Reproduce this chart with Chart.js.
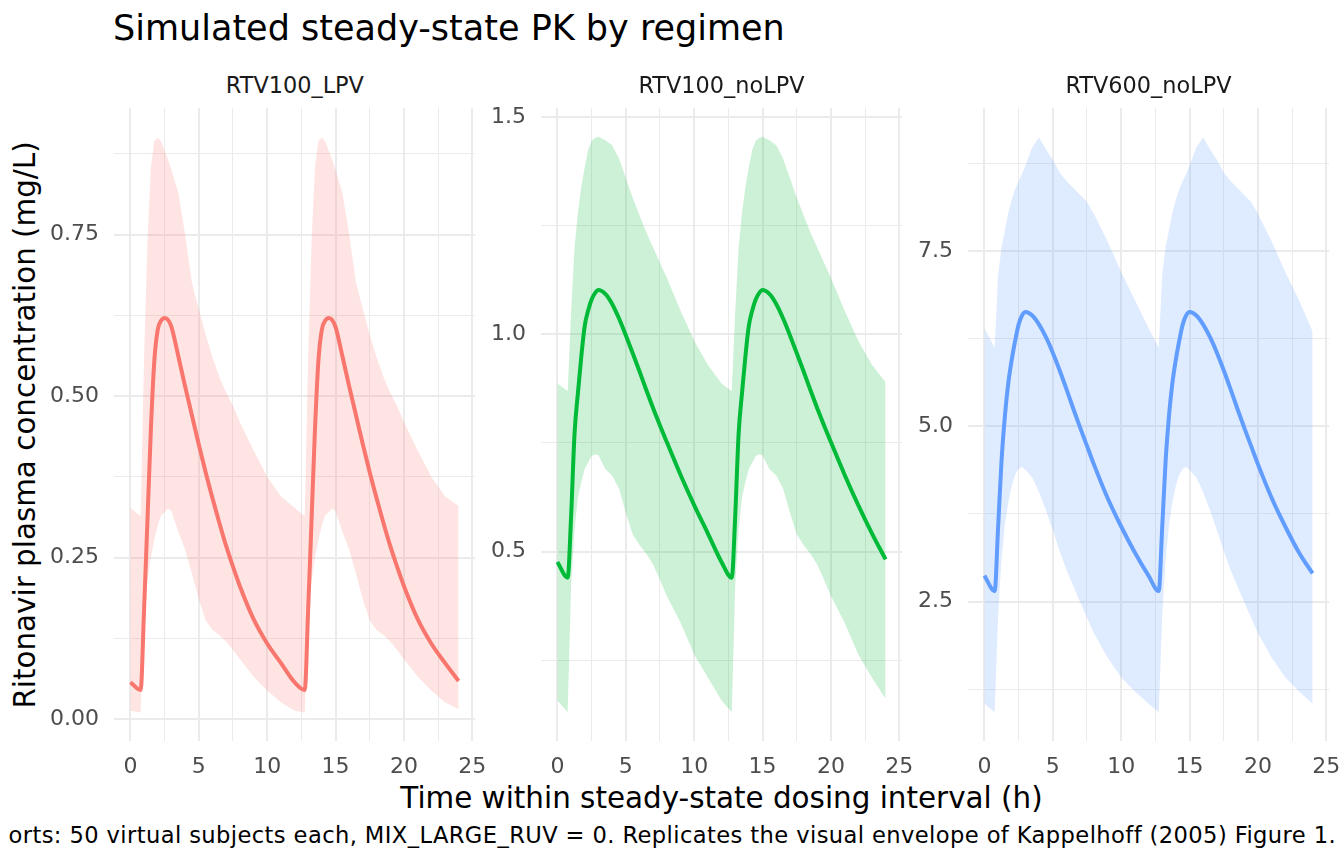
<!DOCTYPE html>
<html>
<head>
<meta charset="utf-8">
<script src="https://cdn.jsdelivr.net/npm/chart.js@4.4.1/dist/chart.umd.min.js"></script>
<style>
  body { margin: 0; width: 1344px; height: 864px; overflow: hidden; position: relative; background: #ffffff; font-family: "DejaVu Sans", sans-serif; }
  canvas { position: absolute; }
  .txt { position: absolute; white-space: nowrap; line-height: 1; }
</style>
</head>
<body>
<div class="txt" id="title" style="left:113px; top:11px; font-size:35px; color:#000;">Simulated steady-state PK by regimen</div>
<div class="txt" id="xtitle" style="left:721.5px; top:783.5px; font-size:29.4px; color:#000; transform:translateX(-50%);">Time within steady-state dosing interval (h)</div>
<div class="txt" id="ytitle" style="left:26px; top:424.5px; font-size:29.4px; color:#000; transform:translate(-50%,-50%) rotate(-90deg);">Ritonavir plasma concentration (mg/L)</div>
<div class="txt" id="caption" style="right:8px; top:823.5px; font-size:22.6px; letter-spacing:0.4px; color:#000;">orts: 50 virtual subjects each, MIX_LARGE_RUV = 0. Replicates the visual envelope of Kappelhoff (2005) Figure 1.</div>

<script>
console.log('pk chart: Loaded');

// time grid (h) shared by every panel
const TIME_H = [0, 0.75, 1, 1.25, 1.5, 1.75, 2, 2.25, 2.5, 2.75, 3, 3.5, 4, 4.5, 5, 5.5, 6, 6.5, 7, 7.5, 8, 9, 10, 11,
                12, 12.75, 13, 13.25, 13.5, 13.75, 14, 14.25, 14.5, 14.75, 15, 15.5, 16, 16.5, 17, 17.5, 18, 18.5, 19, 19.5, 20, 21, 22, 23,
                24];

const REGIMENS = ['RTV100_LPV', 'RTV100_noLPV', 'RTV600_noLPV'];

// RTV100_LPV
const LPV100_MEDIAN = [0.057, 0.045, 0.17, 0.31, 0.45, 0.555, 0.603, 0.617, 0.621, 0.618, 0.607, 0.562, 0.515, 0.47, 0.425, 0.382, 0.342, 0.304, 0.268, 0.236, 0.206, 0.155, 0.117, 0.087,
                       0.057, 0.045, 0.17, 0.31, 0.45, 0.555, 0.603, 0.617, 0.621, 0.618, 0.607, 0.562, 0.515, 0.47, 0.425, 0.382, 0.342, 0.304, 0.268, 0.236, 0.206, 0.155, 0.117, 0.087,
                       0.059];
const LPV100_P95 = [0.327, 0.314, 0.56, 0.74, 0.855, 0.895, 0.9, 0.894, 0.88, 0.866, 0.85, 0.815, 0.75, 0.675, 0.635, 0.595, 0.56, 0.53, 0.505, 0.485, 0.46, 0.416, 0.375, 0.345,
                    0.327, 0.314, 0.56, 0.74, 0.855, 0.895, 0.9, 0.894, 0.88, 0.866, 0.85, 0.815, 0.75, 0.675, 0.635, 0.595, 0.56, 0.53, 0.505, 0.485, 0.46, 0.416, 0.375, 0.345,
                    0.33];
const LPV100_P05 = [0.013, 0.010, 0.17, 0.215, 0.25, 0.278, 0.30, 0.315, 0.32, 0.326, 0.322, 0.29, 0.262, 0.225, 0.185, 0.153, 0.138, 0.130, 0.12, 0.107, 0.093, 0.066, 0.044, 0.026,
                    0.013, 0.010, 0.17, 0.215, 0.25, 0.278, 0.30, 0.315, 0.32, 0.326, 0.322, 0.29, 0.262, 0.225, 0.185, 0.153, 0.138, 0.130, 0.12, 0.107, 0.093, 0.066, 0.044, 0.026,
                    0.015];

// RTV100_noLPV
const NOLPV100_MEDIAN = [0.476, 0.44, 0.58, 0.77, 0.865, 0.95, 1.02, 1.055, 1.08, 1.095, 1.102, 1.093, 1.07, 1.037, 0.998, 0.957, 0.915, 0.872, 0.83, 0.79, 0.752, 0.677, 0.607, 0.542,
                         0.476, 0.44, 0.58, 0.77, 0.865, 0.95, 1.02, 1.055, 1.08, 1.095, 1.102, 1.093, 1.07, 1.037, 0.998, 0.957, 0.915, 0.872, 0.83, 0.79, 0.752, 0.677, 0.607, 0.542,
                         0.482];
const NOLPV100_P95 = [0.887, 0.869, 1.05, 1.2, 1.28, 1.34, 1.385, 1.425, 1.445, 1.452, 1.455, 1.447, 1.435, 1.405, 1.36, 1.315, 1.275, 1.235, 1.2, 1.165, 1.13, 1.055, 0.985, 0.93,
                      0.887, 0.869, 1.05, 1.2, 1.28, 1.34, 1.385, 1.425, 1.445, 1.452, 1.455, 1.447, 1.435, 1.405, 1.36, 1.315, 1.275, 1.235, 1.2, 1.165, 1.13, 1.055, 0.985, 0.93,
                      0.89];
const NOLPV100_P05 = [0.157, 0.13, 0.42, 0.55, 0.625, 0.66, 0.69, 0.705, 0.72, 0.724, 0.722, 0.69, 0.675, 0.645, 0.59, 0.54, 0.515, 0.495, 0.47, 0.435, 0.398, 0.337, 0.263, 0.21,
                      0.157, 0.13, 0.42, 0.55, 0.625, 0.66, 0.69, 0.705, 0.72, 0.724, 0.722, 0.69, 0.675, 0.645, 0.59, 0.54, 0.515, 0.495, 0.47, 0.435, 0.398, 0.337, 0.263, 0.21,
                      0.161];

// RTV600_noLPV
const NOLPV600_MEDIAN = [2.87, 2.65, 3.55, 4.5, 5.15, 5.62, 5.95, 6.22, 6.45, 6.58, 6.63, 6.58, 6.45, 6.27, 6.05, 5.8, 5.53, 5.25, 4.98, 4.72, 4.46, 3.98, 3.57, 3.2,
                         2.87, 2.65, 3.55, 4.5, 5.15, 5.62, 5.95, 6.22, 6.45, 6.58, 6.63, 6.58, 6.45, 6.27, 6.05, 5.8, 5.53, 5.25, 4.98, 4.72, 4.46, 3.98, 3.57, 3.2,
                         2.9];
const NOLPV600_P95 = [6.4, 6.12, 7.15, 7.55, 7.8, 8.05, 8.23, 8.38, 8.5, 8.6, 8.72, 8.98, 9.12, 8.95, 8.8, 8.62, 8.5, 8.4, 8.3, 8.2, 8.03, 7.64, 7.2, 6.8,
                      6.4, 6.12, 7.15, 7.55, 7.8, 8.05, 8.23, 8.38, 8.5, 8.6, 8.72, 8.98, 9.12, 8.95, 8.8, 8.62, 8.5, 8.4, 8.3, 8.2, 8.03, 7.64, 7.2, 6.8,
                      6.35];
const NOLPV600_P05 = [1.04, 0.92, 2.3, 3.1, 3.6, 3.92, 4.15, 4.31, 4.39, 4.42, 4.38, 4.27, 4.06, 3.8, 3.52, 3.22, 2.95, 2.72, 2.49, 2.27, 2.05, 1.7, 1.42, 1.22,
                      1.04, 0.92, 2.3, 3.1, 3.6, 3.92, 4.15, 4.31, 4.39, 4.42, 4.38, 4.27, 4.06, 3.8, 3.52, 3.22, 2.95, 2.72, 2.49, 2.27, 2.05, 1.7, 1.42, 1.22,
                      1.04];

// tick positions (majors get labels, the others are minor grid lines)
const X_TICKS = [0, 2.5, 5, 7.5, 10, 12.5, 15, 17.5, 20, 22.5, 25];
const LPV100_Y_TICKS = [0, 0.125, 0.25, 0.375, 0.5, 0.625, 0.75, 0.875];
const NOLPV100_Y_TICKS = [0.25, 0.5, 0.75, 1.0, 1.25, 1.5];
const NOLPV600_Y_TICKS = [1.25, 2.5, 3.75, 5, 6.25, 7.5, 8.75];

const PANELS = [
    { name: REGIMENS[0], median: LPV100_MEDIAN, lo: LPV100_P05, hi: LPV100_P95, yTicks: LPV100_Y_TICKS,
      major: 0.25, digits: 2, yMin: -0.034, yMax: 0.946, color: '#F8766D', band: 'rgba(248,118,109,0.2)', zeroX: 130.7 },
    { name: REGIMENS[1], median: NOLPV100_MEDIAN, lo: NOLPV100_P05, hi: NOLPV100_P95, yTicks: NOLPV100_Y_TICKS,
      major: 0.5, digits: 1, yMin: 0.064, yMax: 1.521, color: '#00BA38', band: 'rgba(0,186,56,0.2)', zeroX: 557.3 },
    { name: REGIMENS[2], median: NOLPV600_MEDIAN, lo: NOLPV600_P05, hi: NOLPV600_P95, yTicks: NOLPV600_Y_TICKS,
      major: 2.5, digits: 1, yMin: 0.51, yMax: 9.54, color: '#619CFF', band: 'rgba(97,156,255,0.2)', zeroX: 984.3 }
];

// layout in page pixels
const PX_PER_H = 13.68;
const X_MIN = -1.2, X_MAX = 25.2;
const Y_AXIS_W = 80, PAD_R = 14, PAD_T = 8, X_AXIS_H = 40;
const PLOT_TOP = 108, PLOT_BOTTOM = 741;

Chart.defaults.font.family = '"DejaVu Sans", sans-serif';

function isMajor(v, step) {
    const r = v / step;
    return Math.abs(r - Math.round(r)) < 1e-6;
}

function toPoints(values) {
    return TIME_H.map((t, i) => ({ x: t, y: values[i] }));
}

// keep the chart area fixed: no extra room for overhanging tick labels
function noPadding(s) {
    s.paddingTop = 0;
    s.paddingBottom = 0;
    s.paddingLeft = 0;
    s.paddingRight = 0;
}

function drawPanel(p) {
    console.log(`drawPanel: ${p.name}`);
    try {
        const plotLeft = p.zeroX - (0 - X_MIN) * PX_PER_H;
        const plotW = (X_MAX - X_MIN) * PX_PER_H;
        const canvas = document.createElement('canvas');
        const left = Math.round(plotLeft - Y_AXIS_W);
        canvas.width = Math.round(plotLeft + plotW + PAD_R) - left;
        canvas.height = PAD_T + (PLOT_BOTTOM - PLOT_TOP) + X_AXIS_H;
        canvas.style.left = left + 'px';
        canvas.style.top = (PLOT_TOP - PAD_T) + 'px';
        document.body.appendChild(canvas);

        // strip label above the panel
        const strip = document.createElement('div');
        strip.className = 'txt';
        strip.textContent = p.name;
        strip.style.cssText = `left:${plotLeft + plotW / 2}px; top:74.4px; font-size:22.4px; color:#1A1A1A; transform:translateX(-50%);`;
        document.body.appendChild(strip);

        const gridColor = '#EBEBEB';

        new Chart(canvas, {
            type: 'line',
            data: {
                datasets: [
                    { label: 'median', data: toPoints(p.median), borderColor: p.color, borderWidth: 4,
                      pointRadius: 0, fill: false, cubicInterpolationMode: 'monotone' },
                    { label: 'p05', data: toPoints(p.lo), borderColor: 'transparent', borderWidth: 0,
                      pointRadius: 0, fill: false, tension: 0 },
                    { label: 'p95', data: toPoints(p.hi), borderColor: 'transparent', borderWidth: 0,
                      pointRadius: 0, fill: '-1', backgroundColor: p.band, tension: 0 }
                ]
            },
            options: {
                responsive: false,
                animation: false,
                devicePixelRatio: 1,
                layout: { padding: { left: 0, right: PAD_R, top: PAD_T, bottom: 0 } },
                plugins: { legend: { display: false }, tooltip: { enabled: false } },
                scales: {
                    x: {
                        type: 'linear', min: X_MIN, max: X_MAX,
                        afterBuildTicks: s => { s.ticks = X_TICKS.map(v => ({ value: v })); },
                        afterFit: s => { s.height = X_AXIS_H; noPadding(s); },
                        border: { display: false },
                        grid: { color: gridColor, drawTicks: false,
                                lineWidth: c => (c.tick && isMajor(c.tick.value, 5)) ? 2 : 1 },
                        ticks: { autoSkip: false, maxRotation: 0, padding: 13, color: '#4D4D4D', font: { size: 22 },
                                 callback: v => isMajor(v, 5) ? String(v) : '' }
                    },
                    y: {
                        type: 'linear', min: p.yMin, max: p.yMax,
                        afterBuildTicks: s => { s.ticks = p.yTicks.map(v => ({ value: v })); },
                        afterFit: s => { s.width = Y_AXIS_W; noPadding(s); },
                        border: { display: false },
                        grid: { color: gridColor, drawTicks: false,
                                lineWidth: c => (c.tick && isMajor(c.tick.value, p.major)) ? 2 : 1 },
                        ticks: { autoSkip: false, padding: 15, color: '#4D4D4D', font: { size: 22 },
                                 callback: v => isMajor(v, p.major) ? v.toFixed(p.digits) : '' }
                    }
                }
            }
        });
    } catch (error) {
        console.error(`drawPanel: Error rendering ${p.name}`, error);
    }
}

PANELS.forEach(drawPanel);
console.log('pk chart: Done');
</script>
</body>
</html>
